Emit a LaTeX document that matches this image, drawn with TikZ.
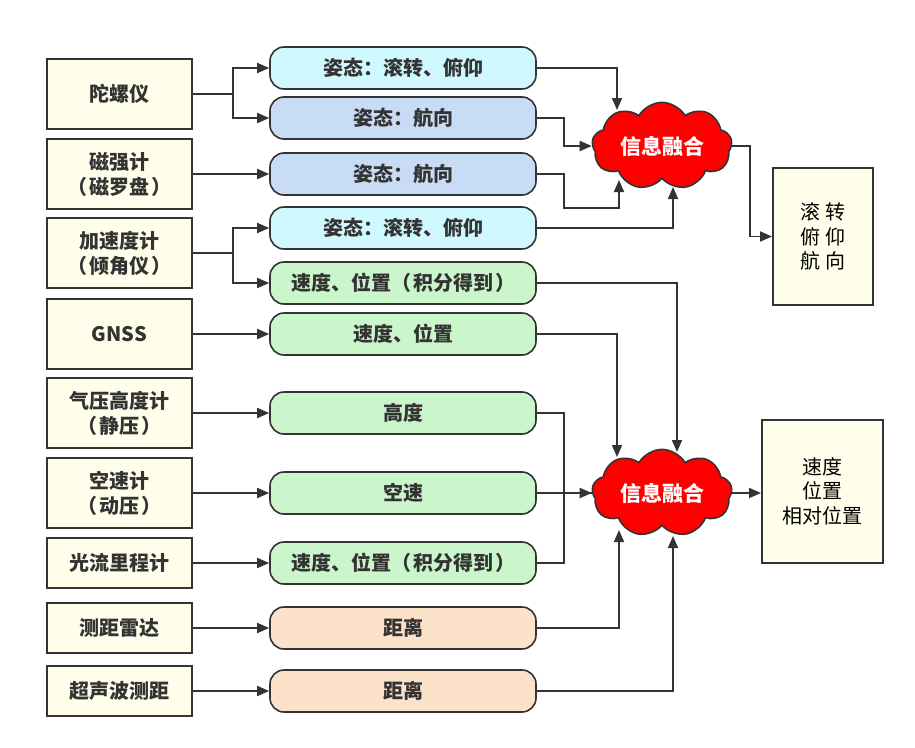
\documentclass[tikz,border=0pt]{standalone}
\usepackage{fontspec}
\setmainfont{Noto Sans CJK SC}
\usetikzlibrary{shapes.symbols,arrows.meta,calc}
\definecolor{boxfill}{HTML}{FEFEEA}
\definecolor{linec}{HTML}{333333}
\definecolor{cyanf}{HTML}{D0F8FF}
\definecolor{bluef}{HTML}{C8DCF5}
\definecolor{greenf}{HTML}{CBF5CB}
\definecolor{orangef}{HTML}{FDE2CB}
\definecolor{txt}{HTML}{333333}
\newcommand{\lp}{（\hspace{2pt}}
\newcommand{\rp}{\hspace{2pt}）}
\begin{document}
\begin{tikzpicture}[x=1pt,y=-1pt,
  sensor/.style={draw=linec, line width=2pt, fill=boxfill, minimum width=145pt, minimum height=70pt,
    align=center, text=txt, font=\bfseries\fontsize{20}{25}\selectfont, inner sep=0pt},
  sensorlow/.style={sensor, minimum height=50pt},
  pill/.style={draw=linec, line width=1.6pt, rounded corners=14pt, minimum width=266pt, minimum height=42pt,
    text=txt, font=\bfseries\fontsize{20}{23}\selectfont, inner sep=0pt},
  fusion/.style={cloud, cloud puffs=9, cloud puff arc=120, aspect=1.75, draw=linec, line width=1.6pt, fill=red,
    minimum width=140pt, minimum height=82pt, text=white, font=\bfseries\fontsize{21}{24}\selectfont, inner sep=0pt},
  result/.style={draw=linec, line width=2pt, fill=boxfill, align=center, text=black,
    font=\fontsize{20}{24.5}\selectfont, inner sep=0pt},
  conn/.style={draw=linec, line width=1.8pt, -{Triangle[length=12pt,width=10pt]}},
  plain/.style={draw=linec, line width=1.8pt}
]
\useasboundingbox (0,0) rectangle (915,747);
\fill[white] (0,0) rectangle (915,747);

% sensors
\node[sensor] (s1) at (119.5,94) {陀螺仪};
\node[sensor] (s2) at (119.5,174) {磁强计\\\lp 磁罗盘\rp};
\node[sensor] (s3) at (119.5,253) {加速度计\\\lp 倾角仪\rp};
\node[sensor] (s4) at (119.5,334) {GNSS};
\node[sensor] (s5) at (119.5,413) {气压高度计\\\lp 静压\rp};
\node[sensor] (s6) at (119.5,493) {空速计\\\lp 动压\rp};
\node[sensorlow] (s7) at (119.5,563) {光流里程计};
\node[sensorlow] (s8) at (119.5,628) {测距雷达};
\node[sensorlow] (s9) at (119.5,691) {超声波测距};

% measurements
\node[pill, fill=cyanf] (p1) at (403,68) {姿态：滚转、俯仰};
\node[pill, fill=bluef] (p2) at (403,118) {姿态：航向};
\node[pill, fill=bluef] (p3) at (403,174) {姿态：航向};
\node[pill, fill=cyanf] (p4) at (403,228) {姿态：滚转、俯仰};
\node[pill, fill=greenf] (p5) at (403,283) {速度、位置\lp 积分得到\rp};
\node[pill, fill=greenf] (p6) at (403,334) {速度、位置};
\node[pill, fill=greenf] (p7) at (403,413) {高度};
\node[pill, fill=greenf] (p8) at (403,493) {空速};
\node[pill, fill=greenf] (p9) at (403,563) {速度、位置\lp 积分得到\rp};
\node[pill, fill=orangef] (p10) at (403,628) {距离};
\node[pill, fill=orangef] (p11) at (403,691) {距离};

% fusion
\node[fusion] (c1) at (662,146) {信息融合};
\node[fusion] (c2) at (662,493) {信息融合};

% results
\node[result, minimum width=100pt, minimum height=137pt] (o1) at (823,236.5) {滚\hspace{5pt}转\\俯\hspace{5pt}仰\\航\hspace{5pt}向};
\node[result, minimum width=121pt, minimum height=143pt] (o2) at (822.5,491) {速度\\位置\\相对位置};

% sensor -> measurement
\draw[conn] (s1.east) -- ++(40,0) |- (p1.west);
\draw[conn] (s1.east) -- ++(40,0) |- (p2.west);
\draw[conn] (s2.east) -- (s2.east -| p3.west);
\draw[conn] (s3.east) -- ++(40,0) |- (p4.west);
\draw[conn] (s3.east) -- ++(40,0) |- (p5.west);
\draw[conn] (s4.east) -- (s4.east -| p6.west);
\draw[conn] (s5.east) -- (s5.east -| p7.west);
\draw[conn] (s6.east) -- (s6.east -| p8.west);
\draw[conn] (s7.east) -- (s7.east -| p9.west);
\draw[conn] (s8.east) -- (s8.east -| p10.west);
\draw[conn] (s9.east) -- (s9.east -| p11.west);

% attitude -> fusion 1
\coordinate (c1n) at ($(c1.center)+(-45,-36)$);
\coordinate (c1s) at ($(c1.center)+(-43,34)$);
\coordinate (c1t) at ($(c1.center)+(11,41)$);
\draw[conn] (p1.east) -| (c1n);
\draw[conn] (p2.east) -- ++(27,0) |- (c1.west);
\draw[conn] (p3.east) -- ++(27,0) |- ($(c1s)+(0,28)$) -- (c1s);
\draw[conn] (p4.east) -| (c1t);
\draw[conn] (c1.east) -- ++(18,0) |- (o1.west);

% navigation -> fusion 2
\coordinate (c2a) at ($(c2.center)+(15,-41)$);
\coordinate (c2b) at ($(c2.center)+(-45,-36)$);
\coordinate (c2c) at ($(c2.center)+(-43,37)$);
\coordinate (c2d) at ($(c2.center)+(11,43)$);
\draw[conn] (p5.east) -| (c2a);
\draw[conn] (p6.east) -| (c2b);
\draw[plain] (p7.east) -- ++(27,0) |- (c2.west);
\draw[conn] (p8.east) -- (c2.west);
\draw[plain] (p9.east) -- ++(27,0) |- (c2.west);
\draw[conn] (p10.east) -| (c2c);
\draw[conn] (p11.east) -| (c2d);
\draw[conn] (c2.east) -- (c2.east -| o2.west);
\end{tikzpicture}
\end{document}
